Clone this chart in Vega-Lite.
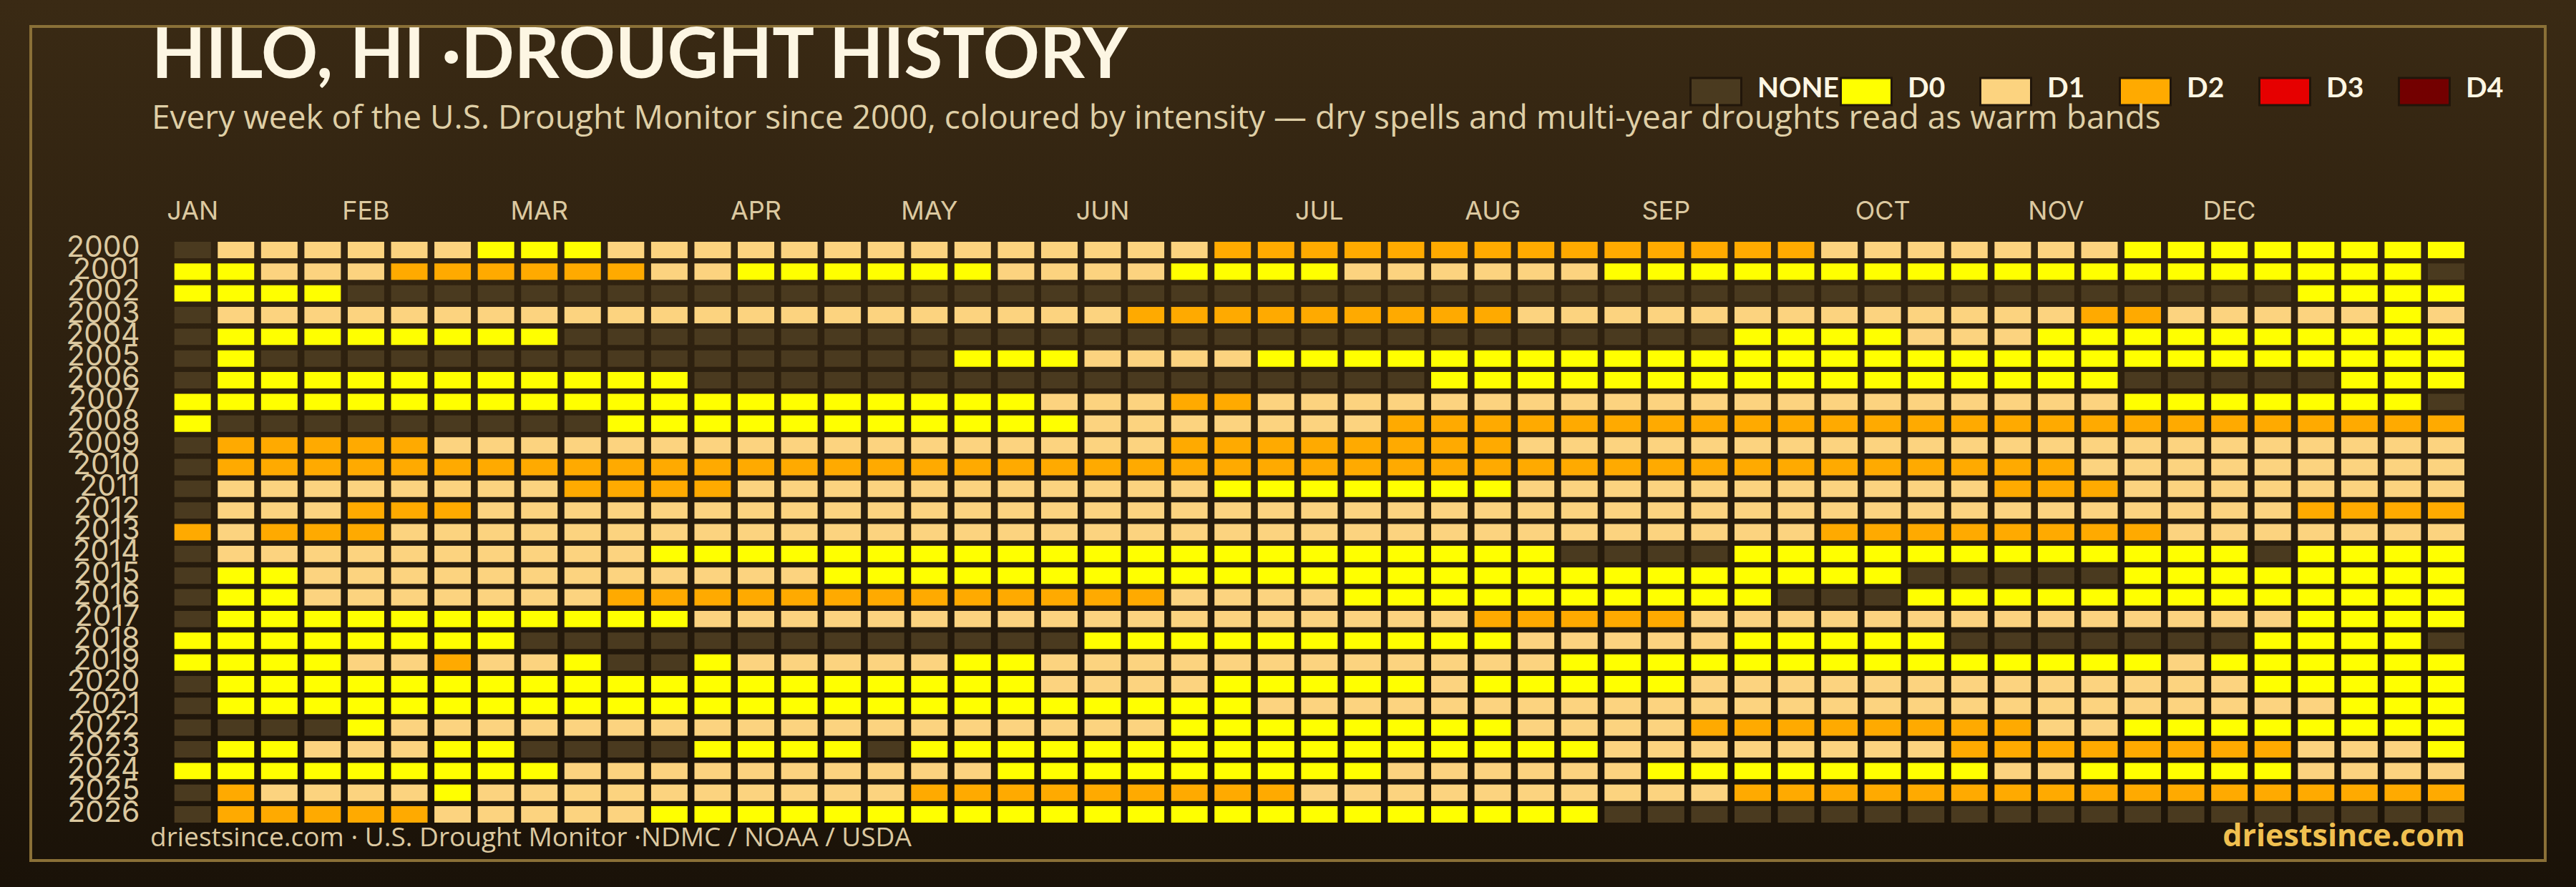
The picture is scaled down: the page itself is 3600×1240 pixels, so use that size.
{"$schema":"https://vega.github.io/schema/vega-lite/v6.json","width":3600,"height":1240,"autosize":"none","padding":0,"background":"#1a1208","view":{"stroke":null},
"title":{"text":"HILO, HI ·DROUGHT HISTORY","subtitle":"Every week of the U.S. Drought Monitor since 2000, coloured by intensity — dry spells and multi-year droughts read as warm bands","anchor":"start","frame":"group","orient":"top","dx":212,"offset":-190,"zindex":1,"font":"Lato","fontSize":98,"fontWeight":700,"color":"#fdf6e3","subtitleFont":"Open Sans","subtitleFontSize":46,"subtitleFontWeight":500,"subtitleColor":"#dfcfa6","subtitlePadding":14},
"layer":[
{"data":{"values":[{}]},"mark":{"type":"rect","fill":{"gradient":"linear","x1":0,"y1":0,"x2":0,"y2":1,"stops":[{"offset":0,"color":"#3a2a14"},{"offset":1,"color":"#1a1208"}]}},"encoding":{"x":{"datum":0,"type":"quantitative","scale":{"domain":[0,3600],"range":[0,3600]},"axis":null},"x2":{"datum":3600},"y":{"datum":0,"type":"quantitative","scale":{"domain":[0,1240],"range":[0,1240]},"axis":null},"y2":{"datum":1240}}},
{"data":{"values":[{}]},"mark":{"type":"rect","fill":"transparent","stroke":"#8a7037","strokeWidth":4},"encoding":{"x":{"datum":43,"type":"quantitative","scale":{"domain":[0,3600],"range":[0,3600]},"axis":null},"x2":{"datum":3557},"y":{"datum":37,"type":"quantitative","scale":{"domain":[0,1240],"range":[0,1240]},"axis":null},"y2":{"datum":1203}}},
{"data":{"values":[{}]},"mark":{"type":"text","text":"driestsince.com  · U.S. Drought Monitor ·NDMC / NOAA / USDA","font":"Open Sans","fontSize":37,"color":"#dcc9a0","align":"left","baseline":"alphabetic"},"encoding":{"x":{"datum":210,"type":"quantitative","scale":{"domain":[0,3600],"range":[0,3600]},"axis":null},"y":{"datum":1183,"type":"quantitative","scale":{"domain":[0,1240],"range":[0,1240]},"axis":null}}},
{"data":{"values":[{}]},"mark":{"type":"text","text":"driestsince.com","font":"Open Sans","fontSize":43,"fontWeight":700,"color":"#f0c050","align":"right","baseline":"alphabetic"},"encoding":{"x":{"datum":3445,"type":"quantitative","scale":{"domain":[0,3600],"range":[0,3600]},"axis":null},"y":{"datum":1183,"type":"quantitative","scale":{"domain":[0,1240],"range":[0,1240]},"axis":null}}},
{"data":{"values":[
{"y":2000,"w":0,"d":"NONE"},{"y":2000,"w":1,"d":"D1"},{"y":2000,"w":2,"d":"D1"},{"y":2000,"w":3,"d":"D1"},{"y":2000,"w":4,"d":"D1"},{"y":2000,"w":5,"d":"D1"},{"y":2000,"w":6,"d":"D1"},{"y":2000,"w":7,"d":"D0"},{"y":2000,"w":8,"d":"D0"},{"y":2000,"w":9,"d":"D0"},{"y":2000,"w":10,"d":"D1"},{"y":2000,"w":11,"d":"D1"},{"y":2000,"w":12,"d":"D1"},{"y":2000,"w":13,"d":"D1"},{"y":2000,"w":14,"d":"D1"},{"y":2000,"w":15,"d":"D1"},{"y":2000,"w":16,"d":"D1"},{"y":2000,"w":17,"d":"D1"},{"y":2000,"w":18,"d":"D1"},{"y":2000,"w":19,"d":"D1"},{"y":2000,"w":20,"d":"D1"},{"y":2000,"w":21,"d":"D1"},{"y":2000,"w":22,"d":"D1"},{"y":2000,"w":23,"d":"D1"},{"y":2000,"w":24,"d":"D2"},{"y":2000,"w":25,"d":"D2"},{"y":2000,"w":26,"d":"D2"},{"y":2000,"w":27,"d":"D2"},{"y":2000,"w":28,"d":"D2"},{"y":2000,"w":29,"d":"D2"},{"y":2000,"w":30,"d":"D2"},{"y":2000,"w":31,"d":"D2"},{"y":2000,"w":32,"d":"D2"},{"y":2000,"w":33,"d":"D2"},{"y":2000,"w":34,"d":"D2"},{"y":2000,"w":35,"d":"D2"},{"y":2000,"w":36,"d":"D2"},{"y":2000,"w":37,"d":"D2"},{"y":2000,"w":38,"d":"D1"},{"y":2000,"w":39,"d":"D1"},{"y":2000,"w":40,"d":"D1"},{"y":2000,"w":41,"d":"D1"},{"y":2000,"w":42,"d":"D1"},{"y":2000,"w":43,"d":"D1"},{"y":2000,"w":44,"d":"D1"},{"y":2000,"w":45,"d":"D0"},{"y":2000,"w":46,"d":"D0"},{"y":2000,"w":47,"d":"D0"},{"y":2000,"w":48,"d":"D0"},{"y":2000,"w":49,"d":"D0"},{"y":2000,"w":50,"d":"D0"},{"y":2000,"w":51,"d":"D0"},{"y":2000,"w":52,"d":"D0"},
{"y":2001,"w":0,"d":"D0"},{"y":2001,"w":1,"d":"D0"},{"y":2001,"w":2,"d":"D1"},{"y":2001,"w":3,"d":"D1"},{"y":2001,"w":4,"d":"D1"},{"y":2001,"w":5,"d":"D2"},{"y":2001,"w":6,"d":"D2"},{"y":2001,"w":7,"d":"D2"},{"y":2001,"w":8,"d":"D2"},{"y":2001,"w":9,"d":"D2"},{"y":2001,"w":10,"d":"D2"},{"y":2001,"w":11,"d":"D1"},{"y":2001,"w":12,"d":"D1"},{"y":2001,"w":13,"d":"D0"},{"y":2001,"w":14,"d":"D0"},{"y":2001,"w":15,"d":"D0"},{"y":2001,"w":16,"d":"D0"},{"y":2001,"w":17,"d":"D0"},{"y":2001,"w":18,"d":"D0"},{"y":2001,"w":19,"d":"D1"},{"y":2001,"w":20,"d":"D1"},{"y":2001,"w":21,"d":"D1"},{"y":2001,"w":22,"d":"D1"},{"y":2001,"w":23,"d":"D0"},{"y":2001,"w":24,"d":"D0"},{"y":2001,"w":25,"d":"D0"},{"y":2001,"w":26,"d":"D0"},{"y":2001,"w":27,"d":"D1"},{"y":2001,"w":28,"d":"D1"},{"y":2001,"w":29,"d":"D1"},{"y":2001,"w":30,"d":"D1"},{"y":2001,"w":31,"d":"D1"},{"y":2001,"w":32,"d":"D1"},{"y":2001,"w":33,"d":"D0"},{"y":2001,"w":34,"d":"D0"},{"y":2001,"w":35,"d":"D0"},{"y":2001,"w":36,"d":"D0"},{"y":2001,"w":37,"d":"D0"},{"y":2001,"w":38,"d":"D0"},{"y":2001,"w":39,"d":"D0"},{"y":2001,"w":40,"d":"D0"},{"y":2001,"w":41,"d":"D0"},{"y":2001,"w":42,"d":"D0"},{"y":2001,"w":43,"d":"D0"},{"y":2001,"w":44,"d":"D0"},{"y":2001,"w":45,"d":"D0"},{"y":2001,"w":46,"d":"D0"},{"y":2001,"w":47,"d":"D0"},{"y":2001,"w":48,"d":"D0"},{"y":2001,"w":49,"d":"D0"},{"y":2001,"w":50,"d":"D0"},{"y":2001,"w":51,"d":"D0"},{"y":2001,"w":52,"d":"NONE"},
{"y":2002,"w":0,"d":"D0"},{"y":2002,"w":1,"d":"D0"},{"y":2002,"w":2,"d":"D0"},{"y":2002,"w":3,"d":"D0"},{"y":2002,"w":4,"d":"NONE"},{"y":2002,"w":5,"d":"NONE"},{"y":2002,"w":6,"d":"NONE"},{"y":2002,"w":7,"d":"NONE"},{"y":2002,"w":8,"d":"NONE"},{"y":2002,"w":9,"d":"NONE"},{"y":2002,"w":10,"d":"NONE"},{"y":2002,"w":11,"d":"NONE"},{"y":2002,"w":12,"d":"NONE"},{"y":2002,"w":13,"d":"NONE"},{"y":2002,"w":14,"d":"NONE"},{"y":2002,"w":15,"d":"NONE"},{"y":2002,"w":16,"d":"NONE"},{"y":2002,"w":17,"d":"NONE"},{"y":2002,"w":18,"d":"NONE"},{"y":2002,"w":19,"d":"NONE"},{"y":2002,"w":20,"d":"NONE"},{"y":2002,"w":21,"d":"NONE"},{"y":2002,"w":22,"d":"NONE"},{"y":2002,"w":23,"d":"NONE"},{"y":2002,"w":24,"d":"NONE"},{"y":2002,"w":25,"d":"NONE"},{"y":2002,"w":26,"d":"NONE"},{"y":2002,"w":27,"d":"NONE"},{"y":2002,"w":28,"d":"NONE"},{"y":2002,"w":29,"d":"NONE"},{"y":2002,"w":30,"d":"NONE"},{"y":2002,"w":31,"d":"NONE"},{"y":2002,"w":32,"d":"NONE"},{"y":2002,"w":33,"d":"NONE"},{"y":2002,"w":34,"d":"NONE"},{"y":2002,"w":35,"d":"NONE"},{"y":2002,"w":36,"d":"NONE"},{"y":2002,"w":37,"d":"NONE"},{"y":2002,"w":38,"d":"NONE"},{"y":2002,"w":39,"d":"NONE"},{"y":2002,"w":40,"d":"NONE"},{"y":2002,"w":41,"d":"NONE"},{"y":2002,"w":42,"d":"NONE"},{"y":2002,"w":43,"d":"NONE"},{"y":2002,"w":44,"d":"NONE"},{"y":2002,"w":45,"d":"NONE"},{"y":2002,"w":46,"d":"NONE"},{"y":2002,"w":47,"d":"NONE"},{"y":2002,"w":48,"d":"NONE"},{"y":2002,"w":49,"d":"D0"},{"y":2002,"w":50,"d":"D0"},{"y":2002,"w":51,"d":"D0"},{"y":2002,"w":52,"d":"D0"},
{"y":2003,"w":0,"d":"NONE"},{"y":2003,"w":1,"d":"D1"},{"y":2003,"w":2,"d":"D1"},{"y":2003,"w":3,"d":"D1"},{"y":2003,"w":4,"d":"D1"},{"y":2003,"w":5,"d":"D1"},{"y":2003,"w":6,"d":"D1"},{"y":2003,"w":7,"d":"D1"},{"y":2003,"w":8,"d":"D1"},{"y":2003,"w":9,"d":"D1"},{"y":2003,"w":10,"d":"D1"},{"y":2003,"w":11,"d":"D1"},{"y":2003,"w":12,"d":"D1"},{"y":2003,"w":13,"d":"D1"},{"y":2003,"w":14,"d":"D1"},{"y":2003,"w":15,"d":"D1"},{"y":2003,"w":16,"d":"D1"},{"y":2003,"w":17,"d":"D1"},{"y":2003,"w":18,"d":"D1"},{"y":2003,"w":19,"d":"D1"},{"y":2003,"w":20,"d":"D1"},{"y":2003,"w":21,"d":"D1"},{"y":2003,"w":22,"d":"D2"},{"y":2003,"w":23,"d":"D2"},{"y":2003,"w":24,"d":"D2"},{"y":2003,"w":25,"d":"D2"},{"y":2003,"w":26,"d":"D2"},{"y":2003,"w":27,"d":"D2"},{"y":2003,"w":28,"d":"D2"},{"y":2003,"w":29,"d":"D2"},{"y":2003,"w":30,"d":"D2"},{"y":2003,"w":31,"d":"D1"},{"y":2003,"w":32,"d":"D1"},{"y":2003,"w":33,"d":"D1"},{"y":2003,"w":34,"d":"D1"},{"y":2003,"w":35,"d":"D1"},{"y":2003,"w":36,"d":"D1"},{"y":2003,"w":37,"d":"D1"},{"y":2003,"w":38,"d":"D1"},{"y":2003,"w":39,"d":"D1"},{"y":2003,"w":40,"d":"D1"},{"y":2003,"w":41,"d":"D1"},{"y":2003,"w":42,"d":"D1"},{"y":2003,"w":43,"d":"D1"},{"y":2003,"w":44,"d":"D2"},{"y":2003,"w":45,"d":"D2"},{"y":2003,"w":46,"d":"D1"},{"y":2003,"w":47,"d":"D1"},{"y":2003,"w":48,"d":"D1"},{"y":2003,"w":49,"d":"D1"},{"y":2003,"w":50,"d":"D1"},{"y":2003,"w":51,"d":"D0"},{"y":2003,"w":52,"d":"D1"},
{"y":2004,"w":0,"d":"NONE"},{"y":2004,"w":1,"d":"D0"},{"y":2004,"w":2,"d":"D0"},{"y":2004,"w":3,"d":"D0"},{"y":2004,"w":4,"d":"D0"},{"y":2004,"w":5,"d":"D0"},{"y":2004,"w":6,"d":"D0"},{"y":2004,"w":7,"d":"D0"},{"y":2004,"w":8,"d":"D0"},{"y":2004,"w":9,"d":"NONE"},{"y":2004,"w":10,"d":"NONE"},{"y":2004,"w":11,"d":"NONE"},{"y":2004,"w":12,"d":"NONE"},{"y":2004,"w":13,"d":"NONE"},{"y":2004,"w":14,"d":"NONE"},{"y":2004,"w":15,"d":"NONE"},{"y":2004,"w":16,"d":"NONE"},{"y":2004,"w":17,"d":"NONE"},{"y":2004,"w":18,"d":"NONE"},{"y":2004,"w":19,"d":"NONE"},{"y":2004,"w":20,"d":"NONE"},{"y":2004,"w":21,"d":"NONE"},{"y":2004,"w":22,"d":"NONE"},{"y":2004,"w":23,"d":"NONE"},{"y":2004,"w":24,"d":"NONE"},{"y":2004,"w":25,"d":"NONE"},{"y":2004,"w":26,"d":"NONE"},{"y":2004,"w":27,"d":"NONE"},{"y":2004,"w":28,"d":"NONE"},{"y":2004,"w":29,"d":"NONE"},{"y":2004,"w":30,"d":"NONE"},{"y":2004,"w":31,"d":"NONE"},{"y":2004,"w":32,"d":"NONE"},{"y":2004,"w":33,"d":"NONE"},{"y":2004,"w":34,"d":"NONE"},{"y":2004,"w":35,"d":"NONE"},{"y":2004,"w":36,"d":"D0"},{"y":2004,"w":37,"d":"D0"},{"y":2004,"w":38,"d":"D0"},{"y":2004,"w":39,"d":"D0"},{"y":2004,"w":40,"d":"D1"},{"y":2004,"w":41,"d":"D1"},{"y":2004,"w":42,"d":"D1"},{"y":2004,"w":43,"d":"D0"},{"y":2004,"w":44,"d":"D0"},{"y":2004,"w":45,"d":"D0"},{"y":2004,"w":46,"d":"D0"},{"y":2004,"w":47,"d":"D0"},{"y":2004,"w":48,"d":"D0"},{"y":2004,"w":49,"d":"D0"},{"y":2004,"w":50,"d":"D0"},{"y":2004,"w":51,"d":"D0"},{"y":2004,"w":52,"d":"D0"},
{"y":2005,"w":0,"d":"NONE"},{"y":2005,"w":1,"d":"D0"},{"y":2005,"w":2,"d":"NONE"},{"y":2005,"w":3,"d":"NONE"},{"y":2005,"w":4,"d":"NONE"},{"y":2005,"w":5,"d":"NONE"},{"y":2005,"w":6,"d":"NONE"},{"y":2005,"w":7,"d":"NONE"},{"y":2005,"w":8,"d":"NONE"},{"y":2005,"w":9,"d":"NONE"},{"y":2005,"w":10,"d":"NONE"},{"y":2005,"w":11,"d":"NONE"},{"y":2005,"w":12,"d":"NONE"},{"y":2005,"w":13,"d":"NONE"},{"y":2005,"w":14,"d":"NONE"},{"y":2005,"w":15,"d":"NONE"},{"y":2005,"w":16,"d":"NONE"},{"y":2005,"w":17,"d":"NONE"},{"y":2005,"w":18,"d":"D0"},{"y":2005,"w":19,"d":"D0"},{"y":2005,"w":20,"d":"D0"},{"y":2005,"w":21,"d":"D1"},{"y":2005,"w":22,"d":"D1"},{"y":2005,"w":23,"d":"D1"},{"y":2005,"w":24,"d":"D1"},{"y":2005,"w":25,"d":"D0"},{"y":2005,"w":26,"d":"D0"},{"y":2005,"w":27,"d":"D0"},{"y":2005,"w":28,"d":"D0"},{"y":2005,"w":29,"d":"D0"},{"y":2005,"w":30,"d":"D0"},{"y":2005,"w":31,"d":"D0"},{"y":2005,"w":32,"d":"D0"},{"y":2005,"w":33,"d":"D0"},{"y":2005,"w":34,"d":"D0"},{"y":2005,"w":35,"d":"D0"},{"y":2005,"w":36,"d":"D0"},{"y":2005,"w":37,"d":"D0"},{"y":2005,"w":38,"d":"D0"},{"y":2005,"w":39,"d":"D0"},{"y":2005,"w":40,"d":"D0"},{"y":2005,"w":41,"d":"D0"},{"y":2005,"w":42,"d":"D0"},{"y":2005,"w":43,"d":"D0"},{"y":2005,"w":44,"d":"D0"},{"y":2005,"w":45,"d":"D0"},{"y":2005,"w":46,"d":"D0"},{"y":2005,"w":47,"d":"D0"},{"y":2005,"w":48,"d":"D0"},{"y":2005,"w":49,"d":"D0"},{"y":2005,"w":50,"d":"D0"},{"y":2005,"w":51,"d":"D0"},{"y":2005,"w":52,"d":"D0"},
{"y":2006,"w":0,"d":"NONE"},{"y":2006,"w":1,"d":"D0"},{"y":2006,"w":2,"d":"D0"},{"y":2006,"w":3,"d":"D0"},{"y":2006,"w":4,"d":"D0"},{"y":2006,"w":5,"d":"D0"},{"y":2006,"w":6,"d":"D0"},{"y":2006,"w":7,"d":"D0"},{"y":2006,"w":8,"d":"D0"},{"y":2006,"w":9,"d":"D0"},{"y":2006,"w":10,"d":"D0"},{"y":2006,"w":11,"d":"D0"},{"y":2006,"w":12,"d":"NONE"},{"y":2006,"w":13,"d":"NONE"},{"y":2006,"w":14,"d":"NONE"},{"y":2006,"w":15,"d":"NONE"},{"y":2006,"w":16,"d":"NONE"},{"y":2006,"w":17,"d":"NONE"},{"y":2006,"w":18,"d":"NONE"},{"y":2006,"w":19,"d":"NONE"},{"y":2006,"w":20,"d":"NONE"},{"y":2006,"w":21,"d":"NONE"},{"y":2006,"w":22,"d":"NONE"},{"y":2006,"w":23,"d":"NONE"},{"y":2006,"w":24,"d":"NONE"},{"y":2006,"w":25,"d":"NONE"},{"y":2006,"w":26,"d":"NONE"},{"y":2006,"w":27,"d":"NONE"},{"y":2006,"w":28,"d":"NONE"},{"y":2006,"w":29,"d":"D0"},{"y":2006,"w":30,"d":"D0"},{"y":2006,"w":31,"d":"D0"},{"y":2006,"w":32,"d":"D0"},{"y":2006,"w":33,"d":"D0"},{"y":2006,"w":34,"d":"D0"},{"y":2006,"w":35,"d":"D0"},{"y":2006,"w":36,"d":"D0"},{"y":2006,"w":37,"d":"D0"},{"y":2006,"w":38,"d":"D0"},{"y":2006,"w":39,"d":"D0"},{"y":2006,"w":40,"d":"D0"},{"y":2006,"w":41,"d":"D0"},{"y":2006,"w":42,"d":"D0"},{"y":2006,"w":43,"d":"D0"},{"y":2006,"w":44,"d":"D0"},{"y":2006,"w":45,"d":"NONE"},{"y":2006,"w":46,"d":"NONE"},{"y":2006,"w":47,"d":"NONE"},{"y":2006,"w":48,"d":"NONE"},{"y":2006,"w":49,"d":"NONE"},{"y":2006,"w":50,"d":"D0"},{"y":2006,"w":51,"d":"D0"},{"y":2006,"w":52,"d":"D0"},
{"y":2007,"w":0,"d":"D0"},{"y":2007,"w":1,"d":"D0"},{"y":2007,"w":2,"d":"D0"},{"y":2007,"w":3,"d":"D0"},{"y":2007,"w":4,"d":"D0"},{"y":2007,"w":5,"d":"D0"},{"y":2007,"w":6,"d":"D0"},{"y":2007,"w":7,"d":"D0"},{"y":2007,"w":8,"d":"D0"},{"y":2007,"w":9,"d":"D0"},{"y":2007,"w":10,"d":"D0"},{"y":2007,"w":11,"d":"D0"},{"y":2007,"w":12,"d":"D0"},{"y":2007,"w":13,"d":"D0"},{"y":2007,"w":14,"d":"D0"},{"y":2007,"w":15,"d":"D0"},{"y":2007,"w":16,"d":"D0"},{"y":2007,"w":17,"d":"D0"},{"y":2007,"w":18,"d":"D0"},{"y":2007,"w":19,"d":"D0"},{"y":2007,"w":20,"d":"D1"},{"y":2007,"w":21,"d":"D1"},{"y":2007,"w":22,"d":"D1"},{"y":2007,"w":23,"d":"D2"},{"y":2007,"w":24,"d":"D2"},{"y":2007,"w":25,"d":"D1"},{"y":2007,"w":26,"d":"D1"},{"y":2007,"w":27,"d":"D1"},{"y":2007,"w":28,"d":"D1"},{"y":2007,"w":29,"d":"D1"},{"y":2007,"w":30,"d":"D1"},{"y":2007,"w":31,"d":"D1"},{"y":2007,"w":32,"d":"D1"},{"y":2007,"w":33,"d":"D1"},{"y":2007,"w":34,"d":"D1"},{"y":2007,"w":35,"d":"D1"},{"y":2007,"w":36,"d":"D1"},{"y":2007,"w":37,"d":"D1"},{"y":2007,"w":38,"d":"D1"},{"y":2007,"w":39,"d":"D1"},{"y":2007,"w":40,"d":"D1"},{"y":2007,"w":41,"d":"D1"},{"y":2007,"w":42,"d":"D1"},{"y":2007,"w":43,"d":"D1"},{"y":2007,"w":44,"d":"D1"},{"y":2007,"w":45,"d":"D0"},{"y":2007,"w":46,"d":"D0"},{"y":2007,"w":47,"d":"D0"},{"y":2007,"w":48,"d":"D0"},{"y":2007,"w":49,"d":"D0"},{"y":2007,"w":50,"d":"D0"},{"y":2007,"w":51,"d":"D0"},{"y":2007,"w":52,"d":"NONE"},
{"y":2008,"w":0,"d":"D0"},{"y":2008,"w":1,"d":"NONE"},{"y":2008,"w":2,"d":"NONE"},{"y":2008,"w":3,"d":"NONE"},{"y":2008,"w":4,"d":"NONE"},{"y":2008,"w":5,"d":"NONE"},{"y":2008,"w":6,"d":"NONE"},{"y":2008,"w":7,"d":"NONE"},{"y":2008,"w":8,"d":"NONE"},{"y":2008,"w":9,"d":"NONE"},{"y":2008,"w":10,"d":"D0"},{"y":2008,"w":11,"d":"D0"},{"y":2008,"w":12,"d":"D0"},{"y":2008,"w":13,"d":"D0"},{"y":2008,"w":14,"d":"D0"},{"y":2008,"w":15,"d":"D0"},{"y":2008,"w":16,"d":"D0"},{"y":2008,"w":17,"d":"D0"},{"y":2008,"w":18,"d":"D0"},{"y":2008,"w":19,"d":"D0"},{"y":2008,"w":20,"d":"D0"},{"y":2008,"w":21,"d":"D1"},{"y":2008,"w":22,"d":"D1"},{"y":2008,"w":23,"d":"D1"},{"y":2008,"w":24,"d":"D1"},{"y":2008,"w":25,"d":"D1"},{"y":2008,"w":26,"d":"D1"},{"y":2008,"w":27,"d":"D1"},{"y":2008,"w":28,"d":"D2"},{"y":2008,"w":29,"d":"D2"},{"y":2008,"w":30,"d":"D2"},{"y":2008,"w":31,"d":"D2"},{"y":2008,"w":32,"d":"D2"},{"y":2008,"w":33,"d":"D2"},{"y":2008,"w":34,"d":"D2"},{"y":2008,"w":35,"d":"D2"},{"y":2008,"w":36,"d":"D2"},{"y":2008,"w":37,"d":"D2"},{"y":2008,"w":38,"d":"D2"},{"y":2008,"w":39,"d":"D2"},{"y":2008,"w":40,"d":"D2"},{"y":2008,"w":41,"d":"D2"},{"y":2008,"w":42,"d":"D2"},{"y":2008,"w":43,"d":"D2"},{"y":2008,"w":44,"d":"D2"},{"y":2008,"w":45,"d":"D2"},{"y":2008,"w":46,"d":"D2"},{"y":2008,"w":47,"d":"D2"},{"y":2008,"w":48,"d":"D2"},{"y":2008,"w":49,"d":"D2"},{"y":2008,"w":50,"d":"D2"},{"y":2008,"w":51,"d":"D2"},{"y":2008,"w":52,"d":"D2"},
{"y":2009,"w":0,"d":"NONE"},{"y":2009,"w":1,"d":"D2"},{"y":2009,"w":2,"d":"D2"},{"y":2009,"w":3,"d":"D2"},{"y":2009,"w":4,"d":"D2"},{"y":2009,"w":5,"d":"D2"},{"y":2009,"w":6,"d":"D1"},{"y":2009,"w":7,"d":"D1"},{"y":2009,"w":8,"d":"D1"},{"y":2009,"w":9,"d":"D1"},{"y":2009,"w":10,"d":"D1"},{"y":2009,"w":11,"d":"D1"},{"y":2009,"w":12,"d":"D1"},{"y":2009,"w":13,"d":"D1"},{"y":2009,"w":14,"d":"D1"},{"y":2009,"w":15,"d":"D1"},{"y":2009,"w":16,"d":"D1"},{"y":2009,"w":17,"d":"D1"},{"y":2009,"w":18,"d":"D1"},{"y":2009,"w":19,"d":"D1"},{"y":2009,"w":20,"d":"D1"},{"y":2009,"w":21,"d":"D1"},{"y":2009,"w":22,"d":"D1"},{"y":2009,"w":23,"d":"D2"},{"y":2009,"w":24,"d":"D2"},{"y":2009,"w":25,"d":"D2"},{"y":2009,"w":26,"d":"D2"},{"y":2009,"w":27,"d":"D2"},{"y":2009,"w":28,"d":"D2"},{"y":2009,"w":29,"d":"D2"},{"y":2009,"w":30,"d":"D2"},{"y":2009,"w":31,"d":"D1"},{"y":2009,"w":32,"d":"D1"},{"y":2009,"w":33,"d":"D1"},{"y":2009,"w":34,"d":"D1"},{"y":2009,"w":35,"d":"D1"},{"y":2009,"w":36,"d":"D1"},{"y":2009,"w":37,"d":"D1"},{"y":2009,"w":38,"d":"D1"},{"y":2009,"w":39,"d":"D1"},{"y":2009,"w":40,"d":"D1"},{"y":2009,"w":41,"d":"D1"},{"y":2009,"w":42,"d":"D1"},{"y":2009,"w":43,"d":"D1"},{"y":2009,"w":44,"d":"D1"},{"y":2009,"w":45,"d":"D1"},{"y":2009,"w":46,"d":"D1"},{"y":2009,"w":47,"d":"D1"},{"y":2009,"w":48,"d":"D1"},{"y":2009,"w":49,"d":"D1"},{"y":2009,"w":50,"d":"D1"},{"y":2009,"w":51,"d":"D1"},{"y":2009,"w":52,"d":"D1"},
{"y":2010,"w":0,"d":"NONE"},{"y":2010,"w":1,"d":"D2"},{"y":2010,"w":2,"d":"D2"},{"y":2010,"w":3,"d":"D2"},{"y":2010,"w":4,"d":"D2"},{"y":2010,"w":5,"d":"D2"},{"y":2010,"w":6,"d":"D2"},{"y":2010,"w":7,"d":"D2"},{"y":2010,"w":8,"d":"D2"},{"y":2010,"w":9,"d":"D2"},{"y":2010,"w":10,"d":"D2"},{"y":2010,"w":11,"d":"D2"},{"y":2010,"w":12,"d":"D2"},{"y":2010,"w":13,"d":"D2"},{"y":2010,"w":14,"d":"D2"},{"y":2010,"w":15,"d":"D2"},{"y":2010,"w":16,"d":"D2"},{"y":2010,"w":17,"d":"D2"},{"y":2010,"w":18,"d":"D2"},{"y":2010,"w":19,"d":"D2"},{"y":2010,"w":20,"d":"D2"},{"y":2010,"w":21,"d":"D2"},{"y":2010,"w":22,"d":"D2"},{"y":2010,"w":23,"d":"D2"},{"y":2010,"w":24,"d":"D2"},{"y":2010,"w":25,"d":"D2"},{"y":2010,"w":26,"d":"D2"},{"y":2010,"w":27,"d":"D2"},{"y":2010,"w":28,"d":"D2"},{"y":2010,"w":29,"d":"D2"},{"y":2010,"w":30,"d":"D2"},{"y":2010,"w":31,"d":"D2"},{"y":2010,"w":32,"d":"D2"},{"y":2010,"w":33,"d":"D2"},{"y":2010,"w":34,"d":"D2"},{"y":2010,"w":35,"d":"D2"},{"y":2010,"w":36,"d":"D2"},{"y":2010,"w":37,"d":"D2"},{"y":2010,"w":38,"d":"D2"},{"y":2010,"w":39,"d":"D2"},{"y":2010,"w":40,"d":"D2"},{"y":2010,"w":41,"d":"D2"},{"y":2010,"w":42,"d":"D2"},{"y":2010,"w":43,"d":"D2"},{"y":2010,"w":44,"d":"D1"},{"y":2010,"w":45,"d":"D1"},{"y":2010,"w":46,"d":"D1"},{"y":2010,"w":47,"d":"D1"},{"y":2010,"w":48,"d":"D1"},{"y":2010,"w":49,"d":"D1"},{"y":2010,"w":50,"d":"D1"},{"y":2010,"w":51,"d":"D1"},{"y":2010,"w":52,"d":"D1"},
{"y":2011,"w":0,"d":"NONE"},{"y":2011,"w":1,"d":"D1"},{"y":2011,"w":2,"d":"D1"},{"y":2011,"w":3,"d":"D1"},{"y":2011,"w":4,"d":"D1"},{"y":2011,"w":5,"d":"D1"},{"y":2011,"w":6,"d":"D1"},{"y":2011,"w":7,"d":"D1"},{"y":2011,"w":8,"d":"D1"},{"y":2011,"w":9,"d":"D2"},{"y":2011,"w":10,"d":"D2"},{"y":2011,"w":11,"d":"D2"},{"y":2011,"w":12,"d":"D2"},{"y":2011,"w":13,"d":"D1"},{"y":2011,"w":14,"d":"D1"},{"y":2011,"w":15,"d":"D1"},{"y":2011,"w":16,"d":"D1"},{"y":2011,"w":17,"d":"D1"},{"y":2011,"w":18,"d":"D1"},{"y":2011,"w":19,"d":"D1"},{"y":2011,"w":20,"d":"D1"},{"y":2011,"w":21,"d":"D1"},{"y":2011,"w":22,"d":"D1"},{"y":2011,"w":23,"d":"D1"},{"y":2011,"w":24,"d":"D0"},{"y":2011,"w":25,"d":"D0"},{"y":2011,"w":26,"d":"D0"},{"y":2011,"w":27,"d":"D0"},{"y":2011,"w":28,"d":"D0"},{"y":2011,"w":29,"d":"D0"},{"y":2011,"w":30,"d":"D0"},{"y":2011,"w":31,"d":"D1"},{"y":2011,"w":32,"d":"D1"},{"y":2011,"w":33,"d":"D1"},{"y":2011,"w":34,"d":"D1"},{"y":2011,"w":35,"d":"D1"},{"y":2011,"w":36,"d":"D1"},{"y":2011,"w":37,"d":"D1"},{"y":2011,"w":38,"d":"D1"},{"y":2011,"w":39,"d":"D1"},{"y":2011,"w":40,"d":"D1"},{"y":2011,"w":41,"d":"D1"},{"y":2011,"w":42,"d":"D2"},{"y":2011,"w":43,"d":"D2"},{"y":2011,"w":44,"d":"D2"},{"y":2011,"w":45,"d":"D1"},{"y":2011,"w":46,"d":"D1"},{"y":2011,"w":47,"d":"D1"},{"y":2011,"w":48,"d":"D1"},{"y":2011,"w":49,"d":"D1"},{"y":2011,"w":50,"d":"D1"},{"y":2011,"w":51,"d":"D1"},{"y":2011,"w":52,"d":"D1"},
{"y":2012,"w":0,"d":"NONE"},{"y":2012,"w":1,"d":"D1"},{"y":2012,"w":2,"d":"D1"},{"y":2012,"w":3,"d":"D1"},{"y":2012,"w":4,"d":"D2"},{"y":2012,"w":5,"d":"D2"},{"y":2012,"w":6,"d":"D2"},{"y":2012,"w":7,"d":"D1"},{"y":2012,"w":8,"d":"D1"},{"y":2012,"w":9,"d":"D1"},{"y":2012,"w":10,"d":"D1"},{"y":2012,"w":11,"d":"D1"},{"y":2012,"w":12,"d":"D1"},{"y":2012,"w":13,"d":"D1"},{"y":2012,"w":14,"d":"D1"},{"y":2012,"w":15,"d":"D1"},{"y":2012,"w":16,"d":"D1"},{"y":2012,"w":17,"d":"D1"},{"y":2012,"w":18,"d":"D1"},{"y":2012,"w":19,"d":"D1"},{"y":2012,"w":20,"d":"D1"},{"y":2012,"w":21,"d":"D1"},{"y":2012,"w":22,"d":"D1"},{"y":2012,"w":23,"d":"D1"},{"y":2012,"w":24,"d":"D1"},{"y":2012,"w":25,"d":"D1"},{"y":2012,"w":26,"d":"D1"},{"y":2012,"w":27,"d":"D1"},{"y":2012,"w":28,"d":"D1"},{"y":2012,"w":29,"d":"D1"},{"y":2012,"w":30,"d":"D1"},{"y":2012,"w":31,"d":"D1"},{"y":2012,"w":32,"d":"D1"},{"y":2012,"w":33,"d":"D1"},{"y":2012,"w":34,"d":"D1"},{"y":2012,"w":35,"d":"D1"},{"y":2012,"w":36,"d":"D1"},{"y":2012,"w":37,"d":"D1"},{"y":2012,"w":38,"d":"D1"},{"y":2012,"w":39,"d":"D1"},{"y":2012,"w":40,"d":"D1"},{"y":2012,"w":41,"d":"D1"},{"y":2012,"w":42,"d":"D1"},{"y":2012,"w":43,"d":"D1"},{"y":2012,"w":44,"d":"D1"},{"y":2012,"w":45,"d":"D1"},{"y":2012,"w":46,"d":"D1"},{"y":2012,"w":47,"d":"D1"},{"y":2012,"w":48,"d":"D1"},{"y":2012,"w":49,"d":"D2"},{"y":2012,"w":50,"d":"D2"},{"y":2012,"w":51,"d":"D2"},{"y":2012,"w":52,"d":"D2"},
{"y":2013,"w":0,"d":"D2"},{"y":2013,"w":1,"d":"D1"},{"y":2013,"w":2,"d":"D2"},{"y":2013,"w":3,"d":"D2"},{"y":2013,"w":4,"d":"D2"},{"y":2013,"w":5,"d":"D1"},{"y":2013,"w":6,"d":"D1"},{"y":2013,"w":7,"d":"D1"},{"y":2013,"w":8,"d":"D1"},{"y":2013,"w":9,"d":"D1"},{"y":2013,"w":10,"d":"D1"},{"y":2013,"w":11,"d":"D1"},{"y":2013,"w":12,"d":"D1"},{"y":2013,"w":13,"d":"D1"},{"y":2013,"w":14,"d":"D1"},{"y":2013,"w":15,"d":"D1"},{"y":2013,"w":16,"d":"D1"},{"y":2013,"w":17,"d":"D1"},{"y":2013,"w":18,"d":"D1"},{"y":2013,"w":19,"d":"D1"},{"y":2013,"w":20,"d":"D1"},{"y":2013,"w":21,"d":"D1"},{"y":2013,"w":22,"d":"D1"},{"y":2013,"w":23,"d":"D1"},{"y":2013,"w":24,"d":"D1"},{"y":2013,"w":25,"d":"D1"},{"y":2013,"w":26,"d":"D1"},{"y":2013,"w":27,"d":"D1"},{"y":2013,"w":28,"d":"D1"},{"y":2013,"w":29,"d":"D1"},{"y":2013,"w":30,"d":"D1"},{"y":2013,"w":31,"d":"D1"},{"y":2013,"w":32,"d":"D1"},{"y":2013,"w":33,"d":"D1"},{"y":2013,"w":34,"d":"D1"},{"y":2013,"w":35,"d":"D1"},{"y":2013,"w":36,"d":"D1"},{"y":2013,"w":37,"d":"D1"},{"y":2013,"w":38,"d":"D2"},{"y":2013,"w":39,"d":"D2"},{"y":2013,"w":40,"d":"D2"},{"y":2013,"w":41,"d":"D2"},{"y":2013,"w":42,"d":"D2"},{"y":2013,"w":43,"d":"D2"},{"y":2013,"w":44,"d":"D2"},{"y":2013,"w":45,"d":"D2"},{"y":2013,"w":46,"d":"D1"},{"y":2013,"w":47,"d":"D1"},{"y":2013,"w":48,"d":"D1"},{"y":2013,"w":49,"d":"D1"},{"y":2013,"w":50,"d":"D1"},{"y":2013,"w":51,"d":"D1"},{"y":2013,"w":52,"d":"D1"},
{"y":2014,"w":0,"d":"NONE"},{"y":2014,"w":1,"d":"D1"},{"y":2014,"w":2,"d":"D1"},{"y":2014,"w":3,"d":"D1"},{"y":2014,"w":4,"d":"D1"},{"y":2014,"w":5,"d":"D1"},{"y":2014,"w":6,"d":"D1"},{"y":2014,"w":7,"d":"D1"},{"y":2014,"w":8,"d":"D1"},{"y":2014,"w":9,"d":"D1"},{"y":2014,"w":10,"d":"D1"},{"y":2014,"w":11,"d":"D0"},{"y":2014,"w":12,"d":"D0"},{"y":2014,"w":13,"d":"D0"},{"y":2014,"w":14,"d":"D0"},{"y":2014,"w":15,"d":"D0"},{"y":2014,"w":16,"d":"D0"},{"y":2014,"w":17,"d":"D0"},{"y":2014,"w":18,"d":"D0"},{"y":2014,"w":19,"d":"D0"},{"y":2014,"w":20,"d":"D0"},{"y":2014,"w":21,"d":"D0"},{"y":2014,"w":22,"d":"D0"},{"y":2014,"w":23,"d":"D0"},{"y":2014,"w":24,"d":"D0"},{"y":2014,"w":25,"d":"D0"},{"y":2014,"w":26,"d":"D0"},{"y":2014,"w":27,"d":"D0"},{"y":2014,"w":28,"d":"D0"},{"y":2014,"w":29,"d":"D0"},{"y":2014,"w":30,"d":"D0"},{"y":2014,"w":31,"d":"D0"},{"y":2014,"w":32,"d":"NONE"},{"y":2014,"w":33,"d":"NONE"},{"y":2014,"w":34,"d":"NONE"},{"y":2014,"w":35,"d":"NONE"},{"y":2014,"w":36,"d":"D0"},{"y":2014,"w":37,"d":"D0"},{"y":2014,"w":38,"d":"D0"},{"y":2014,"w":39,"d":"D0"},{"y":2014,"w":40,"d":"D0"},{"y":2014,"w":41,"d":"D0"},{"y":2014,"w":42,"d":"D0"},{"y":2014,"w":43,"d":"D0"},{"y":2014,"w":44,"d":"D0"},{"y":2014,"w":45,"d":"D0"},{"y":2014,"w":46,"d":"D0"},{"y":2014,"w":47,"d":"D0"},{"y":2014,"w":48,"d":"NONE"},{"y":2014,"w":49,"d":"D0"},{"y":2014,"w":50,"d":"D0"},{"y":2014,"w":51,"d":"D0"},{"y":2014,"w":52,"d":"D0"},
{"y":2015,"w":0,"d":"NONE"},{"y":2015,"w":1,"d":"D0"},{"y":2015,"w":2,"d":"D0"},{"y":2015,"w":3,"d":"D1"},{"y":2015,"w":4,"d":"D1"},{"y":2015,"w":5,"d":"D1"},{"y":2015,"w":6,"d":"D1"},{"y":2015,"w":7,"d":"D1"},{"y":2015,"w":8,"d":"D1"},{"y":2015,"w":9,"d":"D1"},{"y":2015,"w":10,"d":"D1"},{"y":2015,"w":11,"d":"D1"},{"y":2015,"w":12,"d":"D1"},{"y":2015,"w":13,"d":"D1"},{"y":2015,"w":14,"d":"D1"},{"y":2015,"w":15,"d":"D0"},{"y":2015,"w":16,"d":"D0"},{"y":2015,"w":17,"d":"D0"},{"y":2015,"w":18,"d":"D0"},{"y":2015,"w":19,"d":"D0"},{"y":2015,"w":20,"d":"D0"},{"y":2015,"w":21,"d":"D0"},{"y":2015,"w":22,"d":"D0"},{"y":2015,"w":23,"d":"D0"},{"y":2015,"w":24,"d":"D0"},{"y":2015,"w":25,"d":"D0"},{"y":2015,"w":26,"d":"D0"},{"y":2015,"w":27,"d":"D0"},{"y":2015,"w":28,"d":"D0"},{"y":2015,"w":29,"d":"D0"},{"y":2015,"w":30,"d":"D0"},{"y":2015,"w":31,"d":"D0"},{"y":2015,"w":32,"d":"D0"},{"y":2015,"w":33,"d":"D0"},{"y":2015,"w":34,"d":"D0"},{"y":2015,"w":35,"d":"D0"},{"y":2015,"w":36,"d":"D0"},{"y":2015,"w":37,"d":"D0"},{"y":2015,"w":38,"d":"D0"},{"y":2015,"w":39,"d":"D0"},{"y":2015,"w":40,"d":"NONE"},{"y":2015,"w":41,"d":"NONE"},{"y":2015,"w":42,"d":"NONE"},{"y":2015,"w":43,"d":"NONE"},{"y":2015,"w":44,"d":"NONE"},{"y":2015,"w":45,"d":"D0"},{"y":2015,"w":46,"d":"D0"},{"y":2015,"w":47,"d":"D0"},{"y":2015,"w":48,"d":"D0"},{"y":2015,"w":49,"d":"D0"},{"y":2015,"w":50,"d":"D0"},{"y":2015,"w":51,"d":"D0"},{"y":2015,"w":52,"d":"D0"},
{"y":2016,"w":0,"d":"NONE"},{"y":2016,"w":1,"d":"D0"},{"y":2016,"w":2,"d":"D0"},{"y":2016,"w":3,"d":"D1"},{"y":2016,"w":4,"d":"D1"},{"y":2016,"w":5,"d":"D1"},{"y":2016,"w":6,"d":"D1"},{"y":2016,"w":7,"d":"D1"},{"y":2016,"w":8,"d":"D1"},{"y":2016,"w":9,"d":"D1"},{"y":2016,"w":10,"d":"D2"},{"y":2016,"w":11,"d":"D2"},{"y":2016,"w":12,"d":"D2"},{"y":2016,"w":13,"d":"D2"},{"y":2016,"w":14,"d":"D2"},{"y":2016,"w":15,"d":"D2"},{"y":2016,"w":16,"d":"D2"},{"y":2016,"w":17,"d":"D2"},{"y":2016,"w":18,"d":"D2"},{"y":2016,"w":19,"d":"D2"},{"y":2016,"w":20,"d":"D2"},{"y":2016,"w":21,"d":"D2"},{"y":2016,"w":22,"d":"D2"},{"y":2016,"w":23,"d":"D1"},{"y":2016,"w":24,"d":"D1"},{"y":2016,"w":25,"d":"D1"},{"y":2016,"w":26,"d":"D1"},{"y":2016,"w":27,"d":"D0"},{"y":2016,"w":28,"d":"D0"},{"y":2016,"w":29,"d":"D0"},{"y":2016,"w":30,"d":"D0"},{"y":2016,"w":31,"d":"D0"},{"y":2016,"w":32,"d":"D0"},{"y":2016,"w":33,"d":"D0"},{"y":2016,"w":34,"d":"D0"},{"y":2016,"w":35,"d":"D0"},{"y":2016,"w":36,"d":"D0"},{"y":2016,"w":37,"d":"NONE"},{"y":2016,"w":38,"d":"NONE"},{"y":2016,"w":39,"d":"NONE"},{"y":2016,"w":40,"d":"D0"},{"y":2016,"w":41,"d":"D0"},{"y":2016,"w":42,"d":"D0"},{"y":2016,"w":43,"d":"D0"},{"y":2016,"w":44,"d":"D0"},{"y":2016,"w":45,"d":"D0"},{"y":2016,"w":46,"d":"D0"},{"y":2016,"w":47,"d":"D0"},{"y":2016,"w":48,"d":"D0"},{"y":2016,"w":49,"d":"D0"},{"y":2016,"w":50,"d":"D0"},{"y":2016,"w":51,"d":"D0"},{"y":2016,"w":52,"d":"D0"},
{"y":2017,"w":0,"d":"NONE"},{"y":2017,"w":1,"d":"D0"},{"y":2017,"w":2,"d":"D0"},{"y":2017,"w":3,"d":"D0"},{"y":2017,"w":4,"d":"D0"},{"y":2017,"w":5,"d":"D0"},{"y":2017,"w":6,"d":"D0"},{"y":2017,"w":7,"d":"D0"},{"y":2017,"w":8,"d":"D0"},{"y":2017,"w":9,"d":"D0"},{"y":2017,"w":10,"d":"D0"},{"y":2017,"w":11,"d":"D0"},{"y":2017,"w":12,"d":"D1"},{"y":2017,"w":13,"d":"D1"},{"y":2017,"w":14,"d":"D1"},{"y":2017,"w":15,"d":"D1"},{"y":2017,"w":16,"d":"D1"},{"y":2017,"w":17,"d":"D1"},{"y":2017,"w":18,"d":"D1"},{"y":2017,"w":19,"d":"D1"},{"y":2017,"w":20,"d":"D1"},{"y":2017,"w":21,"d":"D1"},{"y":2017,"w":22,"d":"D1"},{"y":2017,"w":23,"d":"D1"},{"y":2017,"w":24,"d":"D1"},{"y":2017,"w":25,"d":"D1"},{"y":2017,"w":26,"d":"D1"},{"y":2017,"w":27,"d":"D1"},{"y":2017,"w":28,"d":"D1"},{"y":2017,"w":29,"d":"D1"},{"y":2017,"w":30,"d":"D2"},{"y":2017,"w":31,"d":"D2"},{"y":2017,"w":32,"d":"D2"},{"y":2017,"w":33,"d":"D2"},{"y":2017,"w":34,"d":"D2"},{"y":2017,"w":35,"d":"D1"},{"y":2017,"w":36,"d":"D1"},{"y":2017,"w":37,"d":"D1"},{"y":2017,"w":38,"d":"D1"},{"y":2017,"w":39,"d":"D1"},{"y":2017,"w":40,"d":"D1"},{"y":2017,"w":41,"d":"D1"},{"y":2017,"w":42,"d":"D1"},{"y":2017,"w":43,"d":"D1"},{"y":2017,"w":44,"d":"D1"},{"y":2017,"w":45,"d":"D1"},{"y":2017,"w":46,"d":"D1"},{"y":2017,"w":47,"d":"D1"},{"y":2017,"w":48,"d":"D1"},{"y":2017,"w":49,"d":"D0"},{"y":2017,"w":50,"d":"D0"},{"y":2017,"w":51,"d":"D0"},{"y":2017,"w":52,"d":"D0"},
{"y":2018,"w":0,"d":"D0"},{"y":2018,"w":1,"d":"D0"},{"y":2018,"w":2,"d":"D0"},{"y":2018,"w":3,"d":"D0"},{"y":2018,"w":4,"d":"D0"},{"y":2018,"w":5,"d":"D0"},{"y":2018,"w":6,"d":"D0"},{"y":2018,"w":7,"d":"D0"},{"y":2018,"w":8,"d":"NONE"},{"y":2018,"w":9,"d":"NONE"},{"y":2018,"w":10,"d":"NONE"},{"y":2018,"w":11,"d":"NONE"},{"y":2018,"w":12,"d":"NONE"},{"y":2018,"w":13,"d":"NONE"},{"y":2018,"w":14,"d":"NONE"},{"y":2018,"w":15,"d":"NONE"},{"y":2018,"w":16,"d":"NONE"},{"y":2018,"w":17,"d":"NONE"},{"y":2018,"w":18,"d":"NONE"},{"y":2018,"w":19,"d":"NONE"},{"y":2018,"w":20,"d":"NONE"},{"y":2018,"w":21,"d":"D0"},{"y":2018,"w":22,"d":"D0"},{"y":2018,"w":23,"d":"D0"},{"y":2018,"w":24,"d":"D0"},{"y":2018,"w":25,"d":"D0"},{"y":2018,"w":26,"d":"D0"},{"y":2018,"w":27,"d":"D0"},{"y":2018,"w":28,"d":"D0"},{"y":2018,"w":29,"d":"D0"},{"y":2018,"w":30,"d":"D0"},{"y":2018,"w":31,"d":"D1"},{"y":2018,"w":32,"d":"D1"},{"y":2018,"w":33,"d":"D1"},{"y":2018,"w":34,"d":"D1"},{"y":2018,"w":35,"d":"D1"},{"y":2018,"w":36,"d":"D0"},{"y":2018,"w":37,"d":"D0"},{"y":2018,"w":38,"d":"D0"},{"y":2018,"w":39,"d":"D0"},{"y":2018,"w":40,"d":"D0"},{"y":2018,"w":41,"d":"NONE"},{"y":2018,"w":42,"d":"NONE"},{"y":2018,"w":43,"d":"NONE"},{"y":2018,"w":44,"d":"NONE"},{"y":2018,"w":45,"d":"NONE"},{"y":2018,"w":46,"d":"NONE"},{"y":2018,"w":47,"d":"NONE"},{"y":2018,"w":48,"d":"D0"},{"y":2018,"w":49,"d":"D0"},{"y":2018,"w":50,"d":"D0"},{"y":2018,"w":51,"d":"D0"},{"y":2018,"w":52,"d":"NONE"},
{"y":2019,"w":0,"d":"D0"},{"y":2019,"w":1,"d":"D0"},{"y":2019,"w":2,"d":"D0"},{"y":2019,"w":3,"d":"D0"},{"y":2019,"w":4,"d":"D1"},{"y":2019,"w":5,"d":"D1"},{"y":2019,"w":6,"d":"D2"},{"y":2019,"w":7,"d":"D1"},{"y":2019,"w":8,"d":"D1"},{"y":2019,"w":9,"d":"D0"},{"y":2019,"w":10,"d":"NONE"},{"y":2019,"w":11,"d":"NONE"},{"y":2019,"w":12,"d":"D0"},{"y":2019,"w":13,"d":"D1"},{"y":2019,"w":14,"d":"D1"},{"y":2019,"w":15,"d":"D1"},{"y":2019,"w":16,"d":"D1"},{"y":2019,"w":17,"d":"D1"},{"y":2019,"w":18,"d":"D0"},{"y":2019,"w":19,"d":"D0"},{"y":2019,"w":20,"d":"D1"},{"y":2019,"w":21,"d":"D1"},{"y":2019,"w":22,"d":"D1"},{"y":2019,"w":23,"d":"D1"},{"y":2019,"w":24,"d":"D1"},{"y":2019,"w":25,"d":"D1"},{"y":2019,"w":26,"d":"D1"},{"y":2019,"w":27,"d":"D1"},{"y":2019,"w":28,"d":"D1"},{"y":2019,"w":29,"d":"D1"},{"y":2019,"w":30,"d":"D1"},{"y":2019,"w":31,"d":"D1"},{"y":2019,"w":32,"d":"D0"},{"y":2019,"w":33,"d":"D0"},{"y":2019,"w":34,"d":"D0"},{"y":2019,"w":35,"d":"D0"},{"y":2019,"w":36,"d":"D0"},{"y":2019,"w":37,"d":"D0"},{"y":2019,"w":38,"d":"D0"},{"y":2019,"w":39,"d":"D0"},{"y":2019,"w":40,"d":"D0"},{"y":2019,"w":41,"d":"D0"},{"y":2019,"w":42,"d":"D0"},{"y":2019,"w":43,"d":"D0"},{"y":2019,"w":44,"d":"D0"},{"y":2019,"w":45,"d":"D0"},{"y":2019,"w":46,"d":"D1"},{"y":2019,"w":47,"d":"D0"},{"y":2019,"w":48,"d":"D0"},{"y":2019,"w":49,"d":"D0"},{"y":2019,"w":50,"d":"D0"},{"y":2019,"w":51,"d":"D0"},{"y":2019,"w":52,"d":"D0"},
{"y":2020,"w":0,"d":"NONE"},{"y":2020,"w":1,"d":"D0"},{"y":2020,"w":2,"d":"D0"},{"y":2020,"w":3,"d":"D0"},{"y":2020,"w":4,"d":"D0"},{"y":2020,"w":5,"d":"D0"},{"y":2020,"w":6,"d":"D0"},{"y":2020,"w":7,"d":"D0"},{"y":2020,"w":8,"d":"D0"},{"y":2020,"w":9,"d":"D0"},{"y":2020,"w":10,"d":"D0"},{"y":2020,"w":11,"d":"D0"},{"y":2020,"w":12,"d":"D0"},{"y":2020,"w":13,"d":"D0"},{"y":2020,"w":14,"d":"D0"},{"y":2020,"w":15,"d":"D0"},{"y":2020,"w":16,"d":"D0"},{"y":2020,"w":17,"d":"D0"},{"y":2020,"w":18,"d":"D0"},{"y":2020,"w":19,"d":"D0"},{"y":2020,"w":20,"d":"D1"},{"y":2020,"w":21,"d":"D1"},{"y":2020,"w":22,"d":"D1"},{"y":2020,"w":23,"d":"D1"},{"y":2020,"w":24,"d":"D0"},{"y":2020,"w":25,"d":"D0"},{"y":2020,"w":26,"d":"D0"},{"y":2020,"w":27,"d":"D0"},{"y":2020,"w":28,"d":"D0"},{"y":2020,"w":29,"d":"D1"},{"y":2020,"w":30,"d":"D0"},{"y":2020,"w":31,"d":"D0"},{"y":2020,"w":32,"d":"D0"},{"y":2020,"w":33,"d":"D0"},{"y":2020,"w":34,"d":"D0"},{"y":2020,"w":35,"d":"D1"},{"y":2020,"w":36,"d":"D1"},{"y":2020,"w":37,"d":"D1"},{"y":2020,"w":38,"d":"D1"},{"y":2020,"w":39,"d":"D1"},{"y":2020,"w":40,"d":"D1"},{"y":2020,"w":41,"d":"D1"},{"y":2020,"w":42,"d":"D1"},{"y":2020,"w":43,"d":"D1"},{"y":2020,"w":44,"d":"D1"},{"y":2020,"w":45,"d":"D1"},{"y":2020,"w":46,"d":"D1"},{"y":2020,"w":47,"d":"D1"},{"y":2020,"w":48,"d":"D0"},{"y":2020,"w":49,"d":"D0"},{"y":2020,"w":50,"d":"D0"},{"y":2020,"w":51,"d":"D0"},{"y":2020,"w":52,"d":"D0"},
{"y":2021,"w":0,"d":"NONE"},{"y":2021,"w":1,"d":"D0"},{"y":2021,"w":2,"d":"D0"},{"y":2021,"w":3,"d":"D0"},{"y":2021,"w":4,"d":"D0"},{"y":2021,"w":5,"d":"D0"},{"y":2021,"w":6,"d":"D0"},{"y":2021,"w":7,"d":"D0"},{"y":2021,"w":8,"d":"D0"},{"y":2021,"w":9,"d":"D0"},{"y":2021,"w":10,"d":"D0"},{"y":2021,"w":11,"d":"D0"},{"y":2021,"w":12,"d":"D0"},{"y":2021,"w":13,"d":"D0"},{"y":2021,"w":14,"d":"D0"},{"y":2021,"w":15,"d":"D0"},{"y":2021,"w":16,"d":"D0"},{"y":2021,"w":17,"d":"D0"},{"y":2021,"w":18,"d":"D0"},{"y":2021,"w":19,"d":"D0"},{"y":2021,"w":20,"d":"D0"},{"y":2021,"w":21,"d":"D0"},{"y":2021,"w":22,"d":"D0"},{"y":2021,"w":23,"d":"D0"},{"y":2021,"w":24,"d":"D0"},{"y":2021,"w":25,"d":"D1"},{"y":2021,"w":26,"d":"D1"},{"y":2021,"w":27,"d":"D1"},{"y":2021,"w":28,"d":"D1"},{"y":2021,"w":29,"d":"D1"},{"y":2021,"w":30,"d":"D1"},{"y":2021,"w":31,"d":"D1"},{"y":2021,"w":32,"d":"D1"},{"y":2021,"w":33,"d":"D1"},{"y":2021,"w":34,"d":"D1"},{"y":2021,"w":35,"d":"D1"},{"y":2021,"w":36,"d":"D1"},{"y":2021,"w":37,"d":"D1"},{"y":2021,"w":38,"d":"D1"},{"y":2021,"w":39,"d":"D1"},{"y":2021,"w":40,"d":"D1"},{"y":2021,"w":41,"d":"D1"},{"y":2021,"w":42,"d":"D1"},{"y":2021,"w":43,"d":"D1"},{"y":2021,"w":44,"d":"D1"},{"y":2021,"w":45,"d":"D1"},{"y":2021,"w":46,"d":"D1"},{"y":2021,"w":47,"d":"D1"},{"y":2021,"w":48,"d":"D1"},{"y":2021,"w":49,"d":"D1"},{"y":2021,"w":50,"d":"D0"},{"y":2021,"w":51,"d":"D0"},{"y":2021,"w":52,"d":"D0"},
{"y":2022,"w":0,"d":"NONE"},{"y":2022,"w":1,"d":"NONE"},{"y":2022,"w":2,"d":"NONE"},{"y":2022,"w":3,"d":"NONE"},{"y":2022,"w":4,"d":"D0"},{"y":2022,"w":5,"d":"D1"},{"y":2022,"w":6,"d":"D1"},{"y":2022,"w":7,"d":"D1"},{"y":2022,"w":8,"d":"D1"},{"y":2022,"w":9,"d":"D1"},{"y":2022,"w":10,"d":"D1"},{"y":2022,"w":11,"d":"D1"},{"y":2022,"w":12,"d":"D1"},{"y":2022,"w":13,"d":"D1"},{"y":2022,"w":14,"d":"D1"},{"y":2022,"w":15,"d":"D1"},{"y":2022,"w":16,"d":"D1"},{"y":2022,"w":17,"d":"D1"},{"y":2022,"w":18,"d":"D1"},{"y":2022,"w":19,"d":"D1"},{"y":2022,"w":20,"d":"D1"},{"y":2022,"w":21,"d":"D1"},{"y":2022,"w":22,"d":"D1"},{"y":2022,"w":23,"d":"D0"},{"y":2022,"w":24,"d":"D0"},{"y":2022,"w":25,"d":"D0"},{"y":2022,"w":26,"d":"D0"},{"y":2022,"w":27,"d":"D0"},{"y":2022,"w":28,"d":"D0"},{"y":2022,"w":29,"d":"D0"},{"y":2022,"w":30,"d":"D0"},{"y":2022,"w":31,"d":"D1"},{"y":2022,"w":32,"d":"D1"},{"y":2022,"w":33,"d":"D1"},{"y":2022,"w":34,"d":"D1"},{"y":2022,"w":35,"d":"D2"},{"y":2022,"w":36,"d":"D2"},{"y":2022,"w":37,"d":"D2"},{"y":2022,"w":38,"d":"D2"},{"y":2022,"w":39,"d":"D2"},{"y":2022,"w":40,"d":"D2"},{"y":2022,"w":41,"d":"D2"},{"y":2022,"w":42,"d":"D2"},{"y":2022,"w":43,"d":"D1"},{"y":2022,"w":44,"d":"D1"},{"y":2022,"w":45,"d":"D0"},{"y":2022,"w":46,"d":"D0"},{"y":2022,"w":47,"d":"D0"},{"y":2022,"w":48,"d":"D0"},{"y":2022,"w":49,"d":"D0"},{"y":2022,"w":50,"d":"D0"},{"y":2022,"w":51,"d":"D0"},{"y":2022,"w":52,"d":"D0"},
{"y":2023,"w":0,"d":"NONE"},{"y":2023,"w":1,"d":"D0"},{"y":2023,"w":2,"d":"D0"},{"y":2023,"w":3,"d":"D1"},{"y":2023,"w":4,"d":"D1"},{"y":2023,"w":5,"d":"D1"},{"y":2023,"w":6,"d":"D0"},{"y":2023,"w":7,"d":"D0"},{"y":2023,"w":8,"d":"NONE"},{"y":2023,"w":9,"d":"NONE"},{"y":2023,"w":10,"d":"NONE"},{"y":2023,"w":11,"d":"NONE"},{"y":2023,"w":12,"d":"D0"},{"y":2023,"w":13,"d":"D0"},{"y":2023,"w":14,"d":"D0"},{"y":2023,"w":15,"d":"D0"},{"y":2023,"w":16,"d":"NONE"},{"y":2023,"w":17,"d":"D0"},{"y":2023,"w":18,"d":"D0"},{"y":2023,"w":19,"d":"D0"},{"y":2023,"w":20,"d":"D0"},{"y":2023,"w":21,"d":"D0"},{"y":2023,"w":22,"d":"D0"},{"y":2023,"w":23,"d":"D0"},{"y":2023,"w":24,"d":"D0"},{"y":2023,"w":25,"d":"D0"},{"y":2023,"w":26,"d":"D0"},{"y":2023,"w":27,"d":"D0"},{"y":2023,"w":28,"d":"D0"},{"y":2023,"w":29,"d":"D0"},{"y":2023,"w":30,"d":"D0"},{"y":2023,"w":31,"d":"D0"},{"y":2023,"w":32,"d":"D0"},{"y":2023,"w":33,"d":"D1"},{"y":2023,"w":34,"d":"D1"},{"y":2023,"w":35,"d":"D1"},{"y":2023,"w":36,"d":"D1"},{"y":2023,"w":37,"d":"D1"},{"y":2023,"w":38,"d":"D1"},{"y":2023,"w":39,"d":"D1"},{"y":2023,"w":40,"d":"D1"},{"y":2023,"w":41,"d":"D2"},{"y":2023,"w":42,"d":"D2"},{"y":2023,"w":43,"d":"D2"},{"y":2023,"w":44,"d":"D2"},{"y":2023,"w":45,"d":"D2"},{"y":2023,"w":46,"d":"D2"},{"y":2023,"w":47,"d":"D2"},{"y":2023,"w":48,"d":"D2"},{"y":2023,"w":49,"d":"D1"},{"y":2023,"w":50,"d":"D1"},{"y":2023,"w":51,"d":"D1"},{"y":2023,"w":52,"d":"D0"},
{"y":2024,"w":0,"d":"D0"},{"y":2024,"w":1,"d":"D0"},{"y":2024,"w":2,"d":"D0"},{"y":2024,"w":3,"d":"D0"},{"y":2024,"w":4,"d":"D0"},{"y":2024,"w":5,"d":"D0"},{"y":2024,"w":6,"d":"D0"},{"y":2024,"w":7,"d":"D0"},{"y":2024,"w":8,"d":"D0"},{"y":2024,"w":9,"d":"D1"},{"y":2024,"w":10,"d":"D1"},{"y":2024,"w":11,"d":"D1"},{"y":2024,"w":12,"d":"D1"},{"y":2024,"w":13,"d":"D1"},{"y":2024,"w":14,"d":"D1"},{"y":2024,"w":15,"d":"D1"},{"y":2024,"w":16,"d":"D1"},{"y":2024,"w":17,"d":"D1"},{"y":2024,"w":18,"d":"D1"},{"y":2024,"w":19,"d":"D0"},{"y":2024,"w":20,"d":"D0"},{"y":2024,"w":21,"d":"D0"},{"y":2024,"w":22,"d":"D0"},{"y":2024,"w":23,"d":"D0"},{"y":2024,"w":24,"d":"D0"},{"y":2024,"w":25,"d":"D0"},{"y":2024,"w":26,"d":"D0"},{"y":2024,"w":27,"d":"D0"},{"y":2024,"w":28,"d":"D1"},{"y":2024,"w":29,"d":"D1"},{"y":2024,"w":30,"d":"D1"},{"y":2024,"w":31,"d":"D1"},{"y":2024,"w":32,"d":"D1"},{"y":2024,"w":33,"d":"D1"},{"y":2024,"w":34,"d":"D0"},{"y":2024,"w":35,"d":"D0"},{"y":2024,"w":36,"d":"D0"},{"y":2024,"w":37,"d":"D0"},{"y":2024,"w":38,"d":"D0"},{"y":2024,"w":39,"d":"D0"},{"y":2024,"w":40,"d":"D0"},{"y":2024,"w":41,"d":"D0"},{"y":2024,"w":42,"d":"D1"},{"y":2024,"w":43,"d":"D1"},{"y":2024,"w":44,"d":"D0"},{"y":2024,"w":45,"d":"D0"},{"y":2024,"w":46,"d":"D0"},{"y":2024,"w":47,"d":"D0"},{"y":2024,"w":48,"d":"D0"},{"y":2024,"w":49,"d":"D1"},{"y":2024,"w":50,"d":"D1"},{"y":2024,"w":51,"d":"D1"},{"y":2024,"w":52,"d":"D1"},
{"y":2025,"w":0,"d":"NONE"},{"y":2025,"w":1,"d":"D2"},{"y":2025,"w":2,"d":"D1"},{"y":2025,"w":3,"d":"D1"},{"y":2025,"w":4,"d":"D1"},{"y":2025,"w":5,"d":"D1"},{"y":2025,"w":6,"d":"D0"},{"y":2025,"w":7,"d":"D1"},{"y":2025,"w":8,"d":"D1"},{"y":2025,"w":9,"d":"D1"},{"y":2025,"w":10,"d":"D1"},{"y":2025,"w":11,"d":"D1"},{"y":2025,"w":12,"d":"D1"},{"y":2025,"w":13,"d":"D1"},{"y":2025,"w":14,"d":"D1"},{"y":2025,"w":15,"d":"D1"},{"y":2025,"w":16,"d":"D1"},{"y":2025,"w":17,"d":"D2"},{"y":2025,"w":18,"d":"D2"},{"y":2025,"w":19,"d":"D2"},{"y":2025,"w":20,"d":"D2"},{"y":2025,"w":21,"d":"D2"},{"y":2025,"w":22,"d":"D2"},{"y":2025,"w":23,"d":"D2"},{"y":2025,"w":24,"d":"D2"},{"y":2025,"w":25,"d":"D2"},{"y":2025,"w":26,"d":"D1"},{"y":2025,"w":27,"d":"D1"},{"y":2025,"w":28,"d":"D1"},{"y":2025,"w":29,"d":"D1"},{"y":2025,"w":30,"d":"D1"},{"y":2025,"w":31,"d":"D1"},{"y":2025,"w":32,"d":"D1"},{"y":2025,"w":33,"d":"D1"},{"y":2025,"w":34,"d":"D1"},{"y":2025,"w":35,"d":"D1"},{"y":2025,"w":36,"d":"D2"},{"y":2025,"w":37,"d":"D2"},{"y":2025,"w":38,"d":"D2"},{"y":2025,"w":39,"d":"D2"},{"y":2025,"w":40,"d":"D2"},{"y":2025,"w":41,"d":"D2"},{"y":2025,"w":42,"d":"D2"},{"y":2025,"w":43,"d":"D2"},{"y":2025,"w":44,"d":"D2"},{"y":2025,"w":45,"d":"D2"},{"y":2025,"w":46,"d":"D2"},{"y":2025,"w":47,"d":"D2"},{"y":2025,"w":48,"d":"D2"},{"y":2025,"w":49,"d":"D2"},{"y":2025,"w":50,"d":"D2"},{"y":2025,"w":51,"d":"D2"},{"y":2025,"w":52,"d":"D2"},
{"y":2026,"w":0,"d":"NONE"},{"y":2026,"w":1,"d":"D2"},{"y":2026,"w":2,"d":"D2"},{"y":2026,"w":3,"d":"D2"},{"y":2026,"w":4,"d":"D2"},{"y":2026,"w":5,"d":"D2"},{"y":2026,"w":6,"d":"D1"},{"y":2026,"w":7,"d":"D1"},{"y":2026,"w":8,"d":"D1"},{"y":2026,"w":9,"d":"D1"},{"y":2026,"w":10,"d":"D1"},{"y":2026,"w":11,"d":"D0"},{"y":2026,"w":12,"d":"D0"},{"y":2026,"w":13,"d":"D0"},{"y":2026,"w":14,"d":"D0"},{"y":2026,"w":15,"d":"D0"},{"y":2026,"w":16,"d":"D0"},{"y":2026,"w":17,"d":"D0"},{"y":2026,"w":18,"d":"D0"},{"y":2026,"w":19,"d":"D0"},{"y":2026,"w":20,"d":"D0"},{"y":2026,"w":21,"d":"D0"},{"y":2026,"w":22,"d":"D0"},{"y":2026,"w":23,"d":"D0"},{"y":2026,"w":24,"d":"D0"},{"y":2026,"w":25,"d":"D0"},{"y":2026,"w":26,"d":"D0"},{"y":2026,"w":27,"d":"D0"},{"y":2026,"w":28,"d":"D0"},{"y":2026,"w":29,"d":"D0"},{"y":2026,"w":30,"d":"D0"},{"y":2026,"w":31,"d":"D0"},{"y":2026,"w":32,"d":"D0"},{"y":2026,"w":33,"d":"NONE"},{"y":2026,"w":34,"d":"NONE"},{"y":2026,"w":35,"d":"NONE"},{"y":2026,"w":36,"d":"NONE"},{"y":2026,"w":37,"d":"NONE"},{"y":2026,"w":38,"d":"NONE"},{"y":2026,"w":39,"d":"NONE"},{"y":2026,"w":40,"d":"NONE"},{"y":2026,"w":41,"d":"NONE"},{"y":2026,"w":42,"d":"NONE"},{"y":2026,"w":43,"d":"NONE"},{"y":2026,"w":44,"d":"NONE"},{"y":2026,"w":45,"d":"NONE"},{"y":2026,"w":46,"d":"NONE"},{"y":2026,"w":47,"d":"NONE"},{"y":2026,"w":48,"d":"NONE"},{"y":2026,"w":49,"d":"NONE"},{"y":2026,"w":50,"d":"NONE"},{"y":2026,"w":51,"d":"NONE"},{"y":2026,"w":52,"d":"NONE"}
]},"mark":{"type":"rect"},"encoding":{
"x":{"field":"w","type":"ordinal","scale":{"range":[243.7,3444],"paddingInner":0.158,"paddingOuter":0},"axis":{"orient":"top","values":[0,4,8,13,17,21,26,30,34,39,43,47],"labelExpr":"['JAN','FEB','MAR','APR','MAY','JUN','JUL','AUG','SEP','OCT','NOV','DEC'][indexof([0,4,8,13,17,21,26,30,34,39,43,47],datum.value)]","title":null,"domain":false,"ticks":false,"grid":false,"labelAngle":0,"labelFont":"Inter","labelFontSize":36,"labelColor":"#dcc9a0","labelPadding":0,"labelBaseline":"alphabetic","offset":-306,"zindex":1,"labelBound":false,"labelFlush":false,"labelOverlap":false}},
"y":{"field":"y","type":"ordinal","scale":{"range":[338,1150],"paddingInner":0.245,"paddingOuter":0},"axis":{"orient":"left","title":null,"domain":false,"ticks":false,"grid":false,"labelFont":"Inter","labelFontSize":41,"labelColor":"#dcc9a0","labelPadding":0,"labelOffset":-2,"offset":-195,"zindex":1,"labelBound":false,"labelFlush":false,"labelOverlap":false}},
"color":{"field":"d","type":"nominal","scale":{"domain":["NONE","D0","D1","D2","D3","D4"],"range":["#4a3a1f","#ffff00","#fcd37f","#ffaa00","#e60000","#730000"]},"legend":{"orient":"none","legendX":2361,"legendY":91,"direction":"horizontal","columns":6,"title":null,"symbolType":"M-1,-0.535H1V0.535H-1Z","symbolSize":5041,"symbolStrokeColor":"#21160a","symbolStrokeWidth":3,"symbolOpacity":1,"labelFont":"Lato","labelFontSize":39,"labelFontWeight":700,"labelColor":"#fdf6e3","labelOffset":21,"columnPadding":-8.5,"gridAlign":"each","zindex":1,"labelExpr":"datum.label=='NONE'?datum.label:datum.label+'\u00a0\u00a0\u00a0\u00a0\u00a0\u200b'","encode":{"labels":{"update":{"dy":{"value":-4}}}}}}}}
],
"resolve":{"scale":{"x":"independent","y":"independent"}}}
